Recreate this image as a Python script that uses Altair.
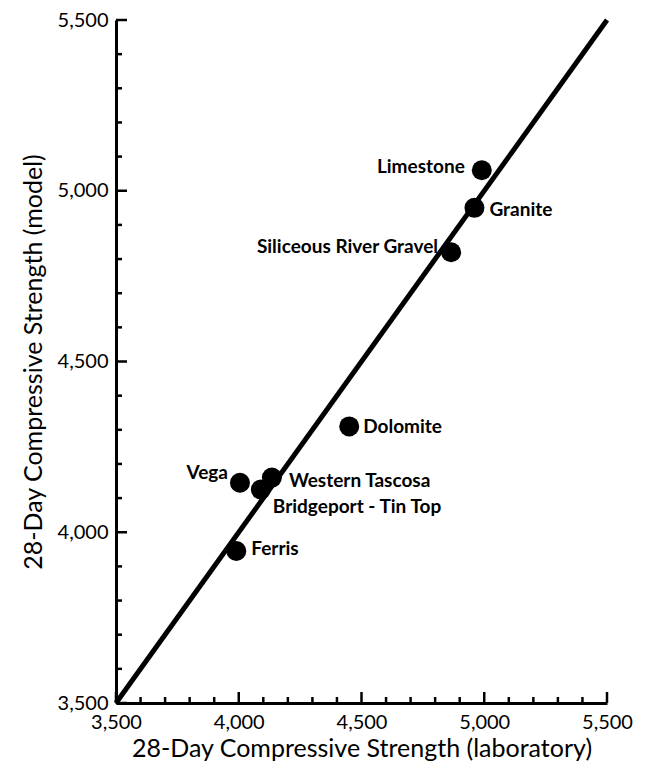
import altair as alt
import pandas as pd

# ---- data ----
names = ["Limestone", "Granite", "Siliceous River Gravel", "Dolomite",
         "Vega", "Western Tascosa", "Bridgeport - Tin Top", "Ferris"]
lab_strength = [4990, 4960, 4865, 4450, 4005, 4135, 4090, 3990]
model_strength = [5060, 4950, 4820, 4310, 4145, 4160, 4125, 3945]

line_x = [3500, 5500]
line_y = [3500, 5500]

major_ticks = [3500, 4000, 4500, 5000, 5500]
minor_ticks = [3600, 3700, 3800, 3900, 4100, 4200, 4300, 4400,
               4600, 4700, 4800, 4900, 5100, 5200, 5300, 5400]

# ---- label placement (style, not data) ----
label_align = ["right", "left", "right", "left", "right", "left", "left", "left"]
label_dx = [-17, 15, -13, 14, -12, 17, 12, 15]
label_dy = [-3, 2, -5, 1, -10, 3, 17, -2]

W, H = 491, 683
font = "Lato"

pts = pd.DataFrame({"name": names, "lab": lab_strength, "model": model_strength})
line_df = pd.DataFrame({"x": line_x, "y": line_y})
maj = pd.DataFrame({"v": major_ticks})
mnr = pd.DataFrame({"v": minor_ticks})

xs = alt.Scale(domain=[3500, 5500], nice=False, zero=False)
ys = alt.Scale(domain=[3500, 5500], nice=False, zero=False)
xtitle = "28-Day Compressive Strength (laboratory)"
ytitle = "28-Day Compressive Strength (model)"
xaxis = alt.Axis(values=major_ticks, format=",.0f", ticks=False, labelPadding=9,
                 labelFlush=False, grid=False, titlePadding=4)
yaxis = alt.Axis(values=major_ticks, format=",.0f", ticks=False, labelPadding=8,
                 labelFlush=False, grid=False, titlePadding=11)


def X(f):
    return alt.X(f, scale=xs, axis=xaxis, title=xtitle)


def Y(f):
    return alt.Y(f, scale=ys, axis=yaxis, title=ytitle)


line = alt.Chart(line_df).mark_line(color="black", strokeWidth=5, strokeCap="butt").encode(
    x=X("x:Q"), y=Y("y:Q"))

points = alt.Chart(pts).mark_circle(color="black", size=400, opacity=1).encode(
    x=X("lab:Q"), y=Y("model:Q"))

text_layers = []
for i in range(len(names)):
    sub = pts.iloc[[i]]
    text_layers.append(
        alt.Chart(sub).mark_text(align=label_align[i], baseline="middle",
                                 dx=label_dx[i], dy=label_dy[i], font=font,
                                 fontSize=19, fontWeight="bold", color="black").encode(
            x=X("lab:Q"), y=Y("model:Q"), text="name:N")
    )

x_major = alt.Chart(maj).mark_rule(color="black", strokeWidth=2.5).encode(
    x=X("v:Q"), y=alt.value(H), y2=alt.value(H - 11))
x_minor = alt.Chart(mnr).mark_rule(color="black", strokeWidth=2.5).encode(
    x=X("v:Q"), y=alt.value(H), y2=alt.value(H - 6))
y_major = alt.Chart(maj).mark_rule(color="black", strokeWidth=2.5).encode(
    y=Y("v:Q"), x=alt.value(0), x2=alt.value(11))
y_minor = alt.Chart(mnr).mark_rule(color="black", strokeWidth=2.5).encode(
    y=Y("v:Q"), x=alt.value(0), x2=alt.value(6))

chart = alt.layer(line, points, *text_layers, x_major, x_minor, y_major, y_minor).properties(
    width=W, height=H, autosize="none",
    padding={"left": 116, "top": 20, "right": 47, "bottom": 72},
    background="white",
).configure_view(stroke=None).configure_axis(
    domainColor="black", domainWidth=3, labelColor="black", titleColor="black",
    labelFont=font, titleFont=font, labelFontSize=20, titleFontSize=25,
    titleFontWeight="normal", labelFontWeight="normal",
)

chart.save("out.html", embed_options={"renderer": "svg", "actions": False})
